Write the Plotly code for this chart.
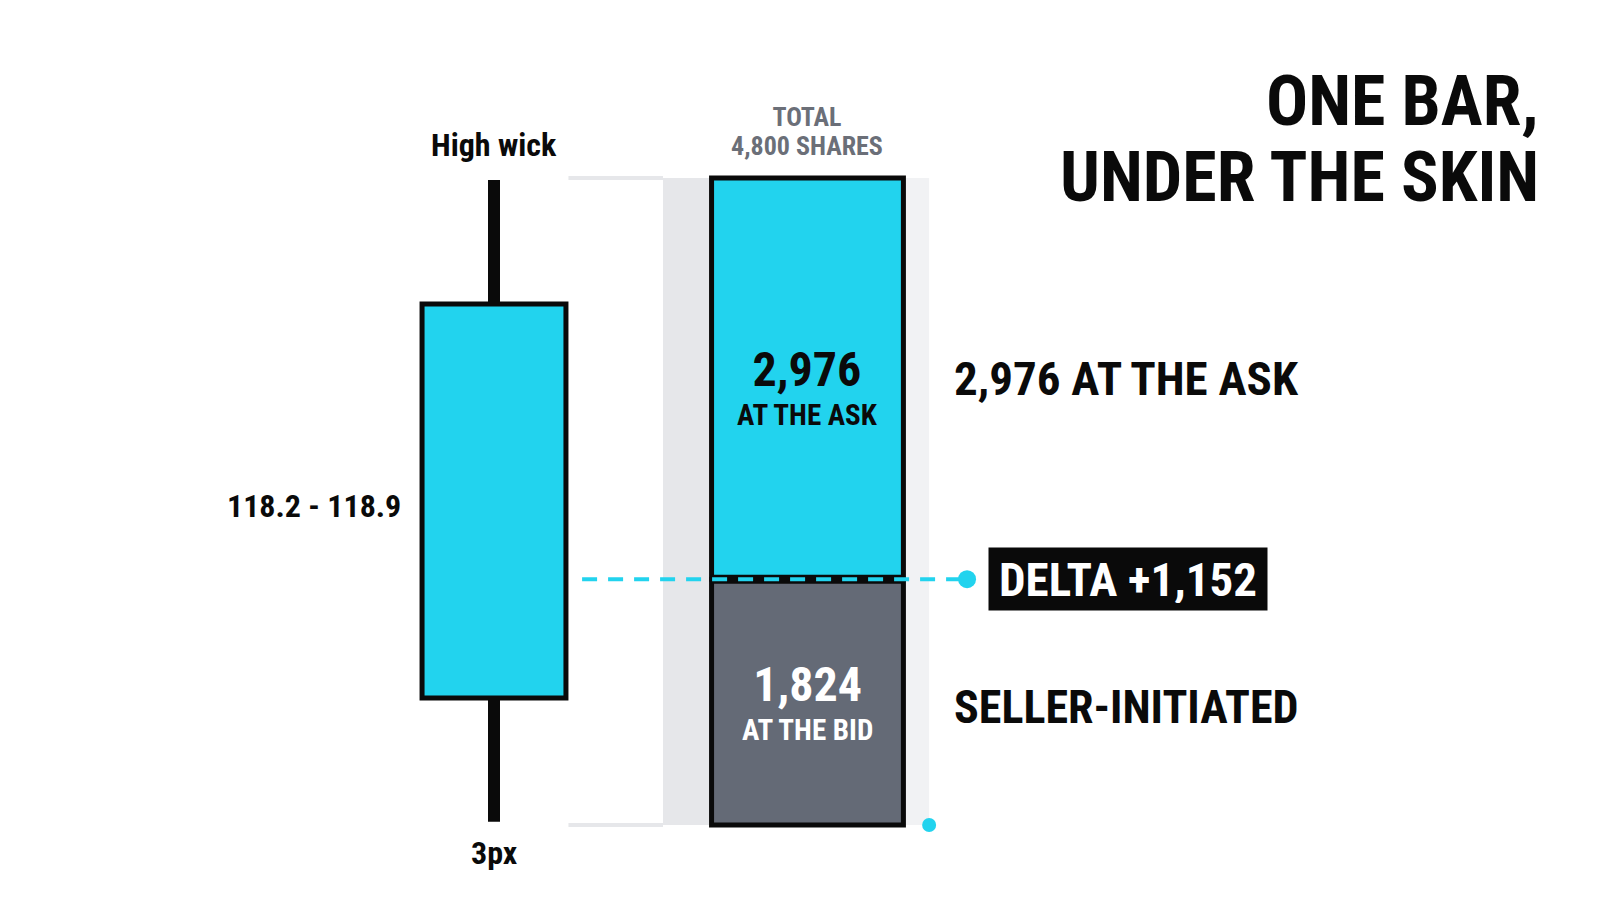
import plotly.graph_objects as go

# one candle, and what's inside it
price_open = 118.2
price_close = 118.9
price_high = 119.12
price_low = 117.98
ask_volume = 2976
bid_volume = 1824
total_volume = ask_volume + bid_volume
delta = ask_volume - bid_volume

bar_names = [0, 1]  # 0 = candle, 1 = volume split

CYAN = "#22d3ee"
SLATE = "#646a76"
INK = "#0a0a0a"
FONT = "Liberation Sans Narrow, Roboto Condensed, Arial Narrow, Roboto, sans-serif"

fig = go.Figure()

# wick (drawn first so the body sits on top)
fig.add_trace(go.Bar(
    x=[bar_names[0]], y=[price_high - price_low], base=[price_low],
    width=0.0383, marker=dict(color=INK, line=dict(width=0)),
    hoverinfo="skip", showlegend=False, yaxis="y"))

# body
fig.add_trace(go.Bar(
    x=[bar_names[0]], y=[price_close - price_open], base=[price_open],
    width=0.459, marker=dict(color=CYAN, line=dict(color=INK, width=5)),
    hoverinfo="skip", showlegend=False, yaxis="y"))

# stacked bid / ask volume
fig.add_trace(go.Bar(
    x=[bar_names[1]], y=[bid_volume], base=[0],
    width=0.612, marker=dict(color=SLATE, line=dict(color=INK, width=5)),
    hoverinfo="skip", showlegend=False, yaxis="y2"))
fig.add_trace(go.Bar(
    x=[bar_names[1]], y=[ask_volume], base=[bid_volume],
    width=0.612, marker=dict(color=CYAN, line=dict(color=INK, width=5)),
    hoverinfo="skip", showlegend=False, yaxis="y2"))

# delta marker dots
fig.add_trace(go.Scatter(
    x=[1.509], y=[bid_volume], mode="markers",
    marker=dict(color=CYAN, size=18), hoverinfo="skip", showlegend=False, yaxis="y2"))
fig.add_trace(go.Scatter(
    x=[1.388], y=[0], mode="markers",
    marker=dict(color=CYAN, size=14), hoverinfo="skip", showlegend=False, yaxis="y2"))

# background panel behind volume bar
fig.add_shape(type="rect", xref="x", yref="y2", x0=0.539, x1=1.0, y0=0, y1=total_volume,
              fillcolor="#e6e7ea", line_width=0, layer="below")
fig.add_shape(type="rect", xref="x", yref="y2", x0=1.0, x1=1.388, y0=0, y1=total_volume,
              fillcolor="#f1f2f4", line_width=0, layer="below")
for lvl in [0, total_volume]:
    fig.add_shape(type="line", xref="x", yref="y2", x0=0.2375, x1=0.539, y0=lvl, y1=lvl,
                  line=dict(color="#e6e7ea", width=4), layer="below")

# thick divider + dashed delta line
fig.add_shape(type="line", xref="x", yref="y2", x0=1 - 0.306, x1=1 + 0.306, y0=bid_volume, y1=bid_volume,
              line=dict(color=INK, width=9))
fig.add_shape(type="line", xref="x", yref="y2", x0=0.281, x1=1.509, y0=bid_volume, y1=bid_volume,
              line=dict(color=CYAN, width=4, dash="15px,11px"))


def label(text, x, y, yref="y2", size=32, color=INK, xanchor="center", yshift=0, xshift=0, **kw):
    fig.add_annotation(text=text, x=x, y=y, xref="x", yref=yref, showarrow=False,
                       xanchor=xanchor, yanchor="middle", yshift=yshift, xshift=xshift,
                       font=dict(family=FONT, size=size, color=color, weight="bold"), **kw)


def stacked(top, bottom, top_px, bottom_px):
    return (f"<span style='font-size:{top_px}px'>{top}</span><br>"
            f"<span style='font-size:{bottom_px}px'>{bottom}</span>")


label("High wick", 0, price_high, yref="y", size=32, yshift=35)
label("3px", 0, price_low, yref="y", size=32, yshift=-31)
label(f"{price_open} - {price_close}", -0.239, (price_open + price_close) / 2, yref="y",
      size=32, xanchor="right", xshift=-16, yshift=-5)

label(stacked("TOTAL", f"{total_volume:,} SHARES", 26, 26), 1, total_volume,
      size=22, color="#6b6f78", yshift=47)

label(stacked(f"{ask_volume:,}", "AT THE ASK", 48, 29), 1, bid_volume + ask_volume / 2, size=30, yshift=-8)
label(stacked(f"{bid_volume:,}", "AT THE BID", 48, 29), 1, bid_volume / 2, size=30, color="white", yshift=1)

label(f"{ask_volume:,} AT THE ASK", 1.461, bid_volume + ask_volume / 2, size=47, xanchor="left")
label(f"DELTA +{delta:,}", 1.576, bid_volume, size=47, color="white", xanchor="left",
      bgcolor=INK, borderpad=7, height=48, width=264)
label("SELLER-INITIATED", 1.461, bid_volume / 2, size=46, xanchor="left", yshift=-5)

# title
for txt, yy in [("ONE BAR,", 1 - 101 / 914), ("UNDER THE SKIN", 1 - 177 / 914)]:
    fig.add_annotation(text=txt, x=1541 / 1600, y=yy, xref="paper", yref="paper",
                       showarrow=False, xanchor="right", yanchor="middle",
                       font=dict(family=FONT, size=70, color=INK, weight="bold"))

fig.update_layout(
    width=1600, height=914, margin=dict(l=0, r=0, t=0, b=0),
    paper_bgcolor="white", plot_bgcolor="white", barmode="overlay",
    xaxis=dict(range=[-1.5758, 3.528], visible=False),
    yaxis=dict(range=[117.816, 119.44], visible=False),
    yaxis2=dict(range=[-660.3, 6120.6], visible=False, overlaying="y"),
)

fig.write_html("out.html", config={"displayModeBar": False},
               post_script="document.body.style.margin='0';")
